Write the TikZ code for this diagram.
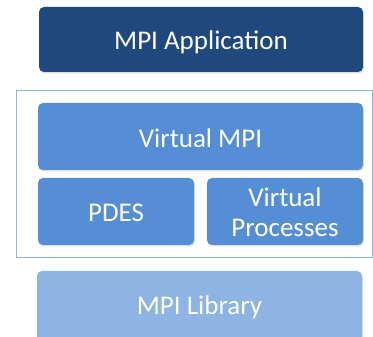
\documentclass[tikz,border=0pt]{standalone}
\usepackage{fontspec}
\setmainfont{Carlito}
\usetikzlibrary{shadows}
\definecolor{appblue}{HTML}{1F497D}
\definecolor{midblue}{HTML}{558ED5}
\definecolor{libblue}{HTML}{8EB4E3}
\definecolor{framecol}{HTML}{8EB4E3}
\begin{document}
\begin{tikzpicture}[x=1pt,y=-1pt,
  box/.style={rounded corners=5pt,
    drop shadow={shadow xshift=0.8pt, shadow yshift=-1.5pt, opacity=0.25}},
  lbl/.style={text=white, font=\fontsize{27}{30}\selectfont, anchor=base, inner sep=0pt, align=center},
]
\useasboundingbox (0,0) rectangle (373,337);
\draw[framecol, line width=0.8pt, drop shadow={shadow xshift=0.8pt, shadow yshift=-1.2pt, opacity=0.2}, fill=white] (16,90) rectangle (372,257);
\fill[box, fill=appblue] (39,7) rectangle (363,72);
\node[lbl] (app) at (201,50) {MPI Application};
\fill[box, fill=midblue] (38,103) rectangle (363,170);
\node[lbl] (vmpi) at (200.5,147.5) {Virtual MPI};
\fill[box, fill=midblue] (38,178) rectangle (194,245);
\node[lbl] (pdes) at (116,221.5) {PDES};
\fill[box, fill=midblue] (207,178) rectangle (363,245);
\node[lbl] (vp) at (285,236.5) {Virtual\\Processes};
\fill[box, fill=libblue] (37,271) rectangle (362,345);
\node[lbl] (lib) at (199.5,314) {MPI Library};
\end{tikzpicture}
\end{document}
